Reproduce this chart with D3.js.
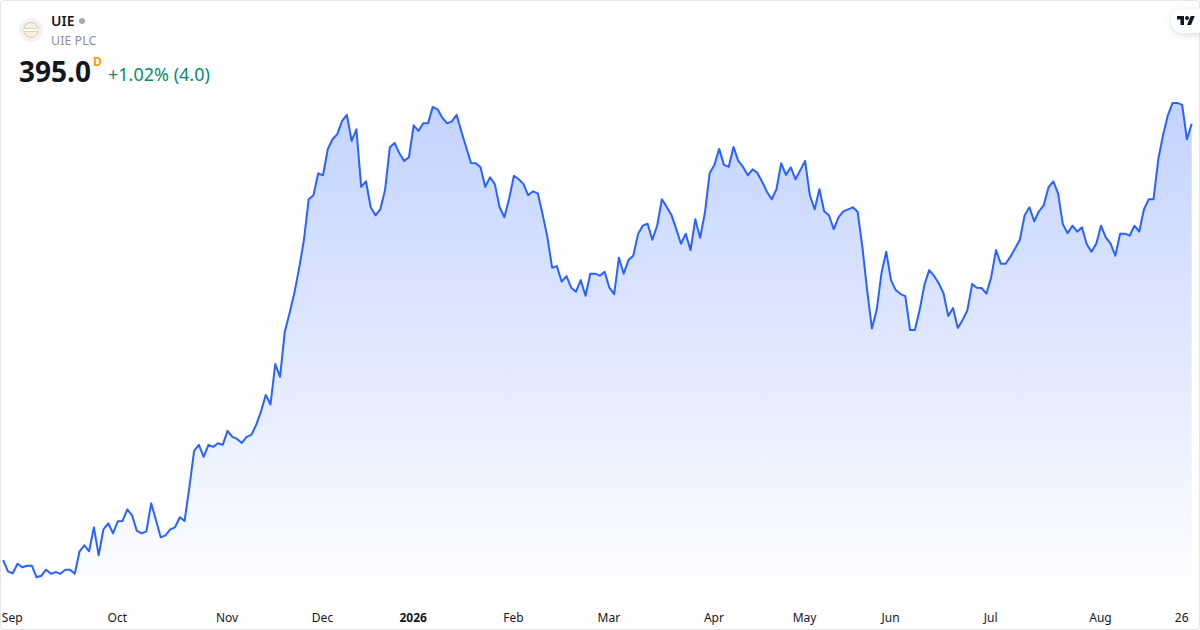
<!DOCTYPE html>
<html>
<head>
<meta charset="utf-8">
<script src="https://cdn.jsdelivr.net/npm/d3@7/dist/d3.min.js"></script>
<style>
  html, body { margin: 0; padding: 0; background: #fff; }
  svg { display: block; font-family: "Noto Sans", sans-serif; }
  .x-axis text { font-size: 12px; fill: #131722; font-family: "Noto Sans", sans-serif; }
</style>
</head>
<body>
<svg id="chart"></svg>
<script>
const closes = [
  285.9, 283.1, 282.6, 285.0, 284.1, 284.5, 284.5, 281.6, 282.0, 283.5,
  282.5, 282.9, 282.5, 283.5, 283.5, 282.5, 288.1, 289.6, 288.1, 294.1,
  287.1, 293.6, 295.1, 292.6, 295.6, 295.7, 298.6, 297.1, 293.2, 292.6,
  293.1, 300.1, 295.9, 291.6, 292.1, 293.6, 294.1, 296.6, 295.7, 304.1,
  313.2, 314.7, 311.7, 314.7, 314.2, 315.1, 314.7, 318.2, 316.7, 316.2,
  315.2, 316.7, 317.2, 319.7, 323.0, 327.2, 324.8, 334.9, 331.7, 343.0,
  347.7, 352.7, 358.9, 365.9, 376.1, 377.1, 382.6, 382.1, 388.6, 391.1,
  392.4, 395.7, 397.2, 390.7, 393.6, 379.2, 380.6, 374.1, 372.1, 373.6,
  378.4, 389.1, 390.2, 387.6, 385.7, 386.6, 394.6, 393.2, 395.1, 395.1,
  399.2, 398.6, 396.5, 395.1, 395.6, 397.2, 393.0, 389.1, 385.2, 385.1,
  384.1, 379.2, 381.6, 379.9, 374.1, 371.6, 376.3, 382.0, 381.1, 379.9,
  377.1, 378.1, 377.6, 372.4, 366.7, 359.0, 359.4, 355.5, 356.9, 354.0,
  353.0, 355.9, 352.0, 357.5, 357.5, 357.0, 358.0, 354.0, 352.4, 361.5,
  357.5, 360.9, 362.0, 367.4, 369.5, 370.0, 366.0, 369.5, 376.1, 374.2,
  372.2, 368.7, 365.0, 367.5, 363.4, 371.1, 366.5, 372.6, 382.6, 384.7,
  388.7, 384.7, 384.2, 389.2, 385.7, 384.2, 382.1, 383.6, 382.7, 380.5,
  378.0, 376.1, 378.6, 385.1, 382.2, 384.1, 381.1, 383.4, 385.7, 377.1,
  373.6, 378.6, 373.1, 372.1, 368.6, 371.6, 373.1, 373.6, 374.1, 373.0,
  364.2, 353.4, 343.8, 348.4, 357.6, 363.0, 355.9, 353.4, 352.4, 351.9,
  343.4, 343.4, 348.4, 354.7, 358.4, 357.0, 355.1, 352.6, 346.9, 348.9,
  343.9, 345.9, 348.4, 354.9, 354.0, 353.9, 352.5, 356.7, 363.4, 360.0,
  360.0, 361.7, 363.8, 366.0, 372.1, 374.1, 370.6, 373.1, 374.6, 379.1,
  380.6, 377.6, 369.9, 367.6, 369.5, 368.0, 369.1, 364.9, 363.0, 365.0,
  369.5, 366.6, 365.0, 362.0, 367.5, 367.5, 367.0, 369.5, 368.0, 373.6,
  376.1, 376.1, 386.1, 392.2, 397.1, 400.2, 400.2, 399.7, 391.1, 395.0
];
const tickLabels = ['Sep', 'Oct', 'Nov', 'Dec', '2026', 'Feb', 'Mar', 'Apr', 'May', 'Jun', 'Jul', 'Aug', '26'];
const tickBars = [2, 24, 47, 67, 86, 107, 127, 149, 168, 186, 207, 230, 247];

const width = 1200;
const height = 630;
const margin = {left: 3.2, right: 8.3, top: 0, bottom: 30};

const svg = d3.select('#chart')
  .attr('width', width)
  .attr('height', height);

const xScale = d3.scaleLinear()
  .domain([0, closes.length - 1])
  .range([margin.left, width - margin.right]);

// 16px for the last 4.0 move, so 4px per unit
const yScale = d3.scaleLinear()
  .domain([275, 395])
  .range([603.7, 123.7]);

const defs = svg.append('defs');
const grad = defs.append('linearGradient')
  .attr('id', 'fade')
  .attr('gradientUnits', 'userSpaceOnUse')
  .attr('x1', 0).attr('x2', 0)
  .attr('y1', yScale(d3.max(closes)))
  .attr('y2', yScale.range()[0]);
grad.append('stop').attr('offset', 0).attr('stop-color', '#2962ff').attr('stop-opacity', 0.28);
grad.append('stop').attr('offset', 1).attr('stop-color', '#2962ff').attr('stop-opacity', 0);

const filter = defs.append('filter').attr('id', 'tab-shadow')
  .attr('x', '-30%').attr('y', '-30%').attr('width', '160%').attr('height', '180%');
filter.append('feDropShadow')
  .attr('dx', 0).attr('dy', 2).attr('stdDeviation', 3)
  .attr('flood-color', '#000').attr('flood-opacity', 0.14);

svg.append('path')
  .datum(closes)
  .attr('fill', 'url(#fade)')
  .attr('d', d3.area()
    .x((_, i) => xScale(i))
    .y0(yScale.range()[0])
    .y1(d => yScale(d)));

svg.append('path')
  .datum(closes)
  .attr('fill', 'none')
  .attr('stroke', '#2962ff')
  .attr('stroke-width', 2)
  .attr('stroke-linejoin', 'round')
  .attr('d', d3.line()
    .x((_, i) => xScale(i))
    .y(d => yScale(d)));

const xAxis = d3.axisBottom(xScale)
  .tickValues(tickBars)
  .tickSize(0)
  .tickPadding(0)
  .tickFormat((_, i) => tickLabels[i]);

svg.append('g')
  .classed('x-axis', true)
  .attr('transform', 'translate(-1, 613)')
  .call(xAxis)
  .call(g => g.select('.domain').remove())
  .selectAll('text')
    .attr('font-weight', (_, i) => tickLabels[i] === '2026' ? 700 : 400);

// header
const logo = svg.append('g').attr('transform', 'translate(31, 30)');
logo.append('circle').attr('r', 12).attr('fill', '#f0f3fa');
logo.append('circle').attr('r', 7.5).attr('fill', '#f7efe2').attr('stroke', '#e0c9a0').attr('stroke-width', 1);
logo.append('rect').attr('x', -7.5).attr('y', -1.5).attr('width', 15).attr('height', 3).attr('fill', '#fff');
logo.append('path').attr('d', 'M-7 -1.5H7M-7 1.5H7').attr('stroke', '#e0c9a0').attr('stroke-width', 0.8);

svg.append('text').attr('x', 51).attr('y', 26)
  .attr('font-size', 14).attr('font-weight', 600).attr('fill', '#131722').text('UIE');
svg.append('circle').attr('cx', 82).attr('cy', 21).attr('r', 3).attr('fill', '#a8abb5');
svg.append('text').attr('x', 51).attr('y', 45)
  .attr('font-size', 12.5).attr('fill', '#8c8f99').text('UIE PLC');
svg.append('text').attr('x', 19).attr('y', 82)
  .attr('font-size', 28).attr('font-weight', 700).attr('fill', '#131722').text('395.0');
svg.append('text').attr('x', 93).attr('y', 66)
  .attr('font-size', 12).attr('font-weight', 700).attr('fill', '#ff9800').text('D');
svg.append('text').attr('x', 108).attr('y', 81)
  .attr('font-size', 18).attr('fill', '#0b8a72').text('+1.02% (4.0)');

// frame and logo tab
svg.append('rect')
  .attr('x', 0.5).attr('y', 0.5)
  .attr('width', width - 1).attr('height', height - 1)
  .attr('rx', 3)
  .attr('fill', 'none')
  .attr('stroke', '#e6e6e6');

svg.append('path')
  .attr('d', 'M1200 9H1183a12 12 0 0 0 -12 12a12 12 0 0 0 12 12H1200Z')
  .attr('fill', '#fff')
  .attr('filter', 'url(#tab-shadow)');
svg.append('g')
  .attr('transform', 'translate(1177, 14) scale(0.5)')
  .append('path')
  .attr('fill', '#131722')
  .attr('d', 'M14 22H7V11H0V4h14v18zM28 22h-8l7.5-18h8L28 22zM20 4a4 4 0 1 1 0 8a4 4 0 0 1 0-8z');
</script>
</body>
</html>
